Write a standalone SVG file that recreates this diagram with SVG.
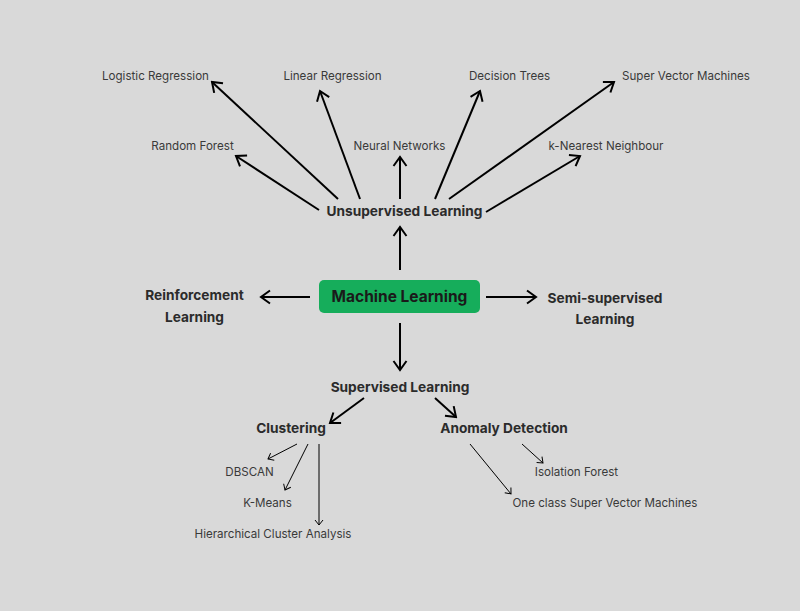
<svg xmlns="http://www.w3.org/2000/svg" width="800" height="611" viewBox="0 0 800 611">
<style>
.s{font-family:Inter,"Liberation Sans",sans-serif;font-size:11.6px;fill:#3a3a3a;text-anchor:middle}
.b{font-family:Inter,"Liberation Sans",sans-serif;font-size:13.7px;font-weight:bold;fill:#2b2b2b;text-anchor:middle}
.m{font-family:Inter,"Liberation Sans",sans-serif;font-size:15.5px;font-weight:bold;fill:#1a1a1a;text-anchor:middle}
.k{stroke:#000;stroke-width:2;fill:none}
.t{stroke:#000;stroke-width:1;fill:none}
</style>
<defs>
<marker id="ah" markerUnits="userSpaceOnUse" viewBox="-12 -8 14 16" markerWidth="14" markerHeight="16" refX="0" refY="0" orient="auto">
<path d="M-9,-6.5 L0,0 L-9,6.5" fill="none" stroke="#000" stroke-width="2"/>
</marker>
<marker id="at" markerUnits="userSpaceOnUse" viewBox="-8 -6 10 12" markerWidth="10" markerHeight="12" refX="0" refY="0" orient="auto">
<path d="M-5,-4 L0,0 L-5,4" fill="none" stroke="#000" stroke-width="1"/>
</marker>
</defs>
<rect width="800" height="611" fill="#d9d9d9"/>
<g id="connectors">
<line class="k" x1="338" y1="199" x2="212" y2="82" marker-end="url(#ah)"/>
<line class="k" x1="319" y1="210" x2="236" y2="156" marker-end="url(#ah)"/>
<line class="k" x1="360" y1="199" x2="320" y2="91" marker-end="url(#ah)"/>
<line class="k" x1="400" y1="199" x2="400" y2="157" marker-end="url(#ah)"/>
<line class="k" x1="435" y1="199" x2="480" y2="91" marker-end="url(#ah)"/>
<line class="k" x1="449" y1="199" x2="614" y2="82" marker-end="url(#ah)"/>
<line class="k" x1="486" y1="212" x2="580" y2="156" marker-end="url(#ah)"/>
<line class="k" x1="400" y1="270" x2="400" y2="227" marker-end="url(#ah)"/>
<line class="k" x1="310" y1="297" x2="261" y2="297" marker-end="url(#ah)"/>
<line class="k" x1="486" y1="297" x2="536" y2="297" marker-end="url(#ah)"/>
<line class="k" x1="400" y1="323" x2="400" y2="370" marker-end="url(#ah)"/>
<line class="k" x1="364" y1="398" x2="330" y2="423" marker-end="url(#ah)"/>
<line class="k" x1="435" y1="398" x2="456" y2="417" marker-end="url(#ah)"/>
<line class="t" x1="297" y1="444" x2="268" y2="459" marker-end="url(#at)"/>
<line class="t" x1="308" y1="444" x2="285" y2="490" marker-end="url(#at)"/>
<line class="t" x1="319" y1="444" x2="319" y2="525" marker-end="url(#at)"/>
<line class="t" x1="470" y1="444" x2="511" y2="494" marker-end="url(#at)"/>
<line class="t" x1="522" y1="444" x2="543" y2="463" marker-end="url(#at)"/>
</g>
<g id="ml"><rect x="319" y="280" width="161" height="33" rx="5" fill="#16ad5b"/><text class="m" x="399.5" y="302">Machine Learning</text></g>
<g id="unsup"><text class="b" x="404.5" y="216">Unsupervised Learning</text></g>
<g id="sup"><text class="b" x="400" y="391.5">Supervised Learning</text></g>
<g id="reinf"><text class="b" x="194.5" y="300">Reinforcement</text><text class="b" x="194.5" y="321.5">Learning</text></g>
<g id="semi"><text class="b" x="605" y="302.5">Semi-supervised</text><text class="b" x="605" y="323.5">Learning</text></g>
<g id="logreg"><text class="s" x="155.5" y="79.5">Logistic Regression</text></g>
<g id="linreg"><text class="s" x="332.5" y="79.5">Linear Regression</text></g>
<g id="dtree"><text class="s" x="509.5" y="79.5">Decision Trees</text></g>
<g id="svm"><text class="s" x="686" y="79.5">Super Vector Machines</text></g>
<g id="rf"><text class="s" x="192.5" y="149.5">Random Forest</text></g>
<g id="nn"><text class="s" x="399.5" y="149.5">Neural Networks</text></g>
<g id="knn"><text class="s" x="606" y="149.5">k-Nearest Neighbour</text></g>
<g id="clust"><text class="b" x="291" y="433">Clustering</text></g>
<g id="anom"><text class="b" x="504" y="433">Anomaly Detection</text></g>
<g id="dbscan"><text class="s" x="249.5" y="476">DBSCAN</text></g>
<g id="kmeans"><text class="s" x="267.5" y="506.5">K-Means</text></g>
<g id="hca"><text class="s" x="273" y="537.5">Hierarchical Cluster Analysis</text></g>
<g id="iso"><text class="s" x="576.5" y="476">Isolation Forest</text></g>
<g id="ocsvm"><text class="s" x="605" y="507">One class Super Vector Machines</text></g>
</svg>
